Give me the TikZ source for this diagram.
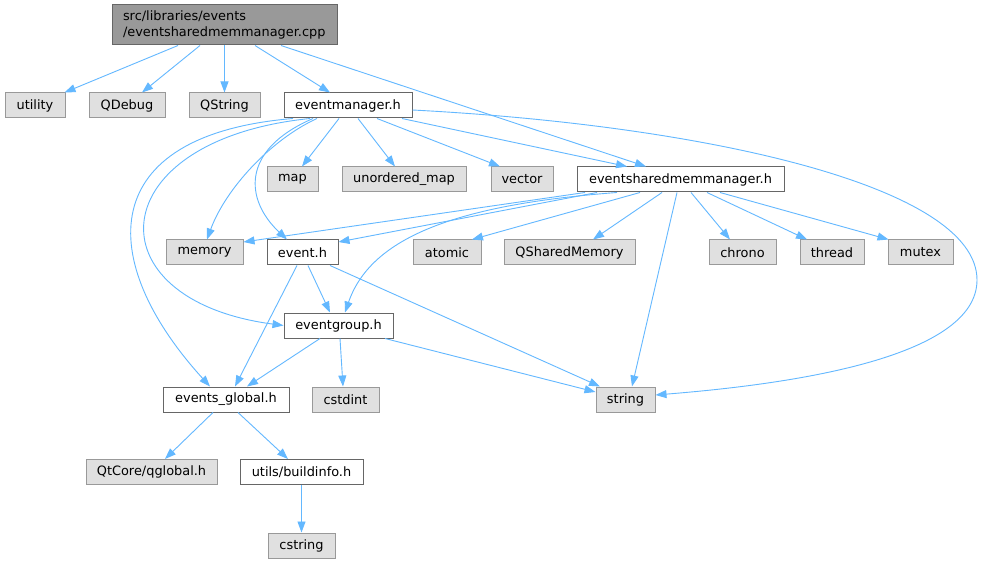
\documentclass[tikz,border=0pt]{standalone}
\usepackage{fontspec}
\setmainfont{DejaVu Sans}
\usetikzlibrary{arrows.meta}
\definecolor{edgeblue}{HTML}{63B8FF}
\definecolor{sysfill}{HTML}{E0E0E0}
\definecolor{sysdraw}{HTML}{999999}
\definecolor{prjdraw}{HTML}{666666}
\definecolor{rootfill}{HTML}{999999}
\begin{document}
\begin{tikzpicture}[x=1pt,y=-1pt,
  every node/.style={font=\fontsize{12.9}{16}\selectfont, inner sep=0pt, line width=1pt},
  sys/.style={draw=sysdraw, fill=sysfill, minimum height=25pt},
  prj/.style={draw=prjdraw, fill=white, minimum height=25pt},
  rootbox/.style={draw=prjdraw, fill=rootfill, minimum height=40pt, text width=203pt, inner xsep=11pt, align=left},
  dep/.style={draw=edgeblue, line width=0.9pt, -{Triangle[length=11pt,width=8pt]}}]
\useasboundingbox (0,0) rectangle (983,564);
\fill[white] (0,0) rectangle (983,564);
% nodes
\node[rootbox] (root) at (224.5,25) {src/libraries/events\\/eventsharedmemmanager.cpp};
\node[sys, minimum width=60pt] (ut) at (35,105.5) {utility};
\node[sys, minimum width=76pt] (qd) at (127,105.5) {QDebug};
\node[sys, minimum width=71pt] (qs) at (224.5,105.5) {QString};
\node[prj, minimum width=128pt] (em) at (348,105.5) {eventmanager.h};
\node[sys, minimum width=51pt] (map) at (292.5,179.5) {map};
\node[sys, minimum width=124pt] (um) at (404,179.5) {unordered\_map};
\node[sys, minimum width=62pt] (vec) at (522,179.5) {vector};
\node[prj, minimum width=207pt] (esm) at (680.5,179.5) {eventsharedmemmanager.h};
\node[sys, minimum width=77pt] (mem) at (204.5,252.5) {memory};
\node[prj, minimum width=71pt] (ev) at (302.5,252.5) {event.h};
\node[sys, minimum width=68pt] (at) at (447,252.5) {atomic};
\node[sys, minimum width=131pt] (qsm) at (569.5,252.5) {QSharedMemory};
\node[sys, minimum width=67pt] (chr) at (742.5,252.5) {chrono};
\node[sys, minimum width=64pt] (thr) at (832,252.5) {thread};
\node[sys, minimum width=65pt] (mtx) at (920.5,252.5) {mutex};
\node[prj, minimum width=109pt] (eg) at (338.5,325.5) {eventgroup.h};
\node[sys, minimum width=59pt] (str) at (625.5,399.5) {string};
\node[prj, minimum width=126pt] (eglob) at (226,399.5) {events\_global.h};
\node[sys, minimum width=67pt] (csi) at (345.5,399.5) {cstdint};
\node[sys, minimum width=131pt] (qtg) at (151.5,472) {QtCore/qglobal.h};
\node[prj, minimum width=123pt] (bi) at (301.5,472) {utils/buildinfo.h};
\node[sys, minimum width=67pt] (cs) at (301.5,545.5) {cstring};
% edges from root
\draw[dep] ([xshift=-46.5pt]root.south) -- ([xshift=-1pt]ut.north east);
\draw[dep] ([xshift=-24.5pt]root.south) -- ([xshift=15pt]qd.north);
\draw[dep] (root.south) -- (qs.north);
\draw[dep] ([xshift=30.5pt]root.south) -- ([xshift=-18pt]em.north);
\draw[dep] ([xshift=56.5pt]root.south) -- ([xshift=-34.5pt]esm.north);
% edges from eventmanager.h
\draw[dep] ([xshift=-9pt]em.south) -- ([xshift=9.5pt]map.north);
\draw[dep] ([xshift=10pt]em.south) -- ([xshift=-9pt]um.north);
\draw[dep] ([xshift=29pt]em.south) -- ([xshift=-22pt]vec.north);
\draw[dep] ([xshift=54pt]em.south) -- ([xshift=-53.5pt]esm.north);
\draw[dep] ([yshift=-4.5pt]em.east) .. controls (700,125) and (977,185) .. (977,280)
  .. controls (977,360) and (780,385) .. ([yshift=4.5pt]str.east);
\draw[dep] ([xshift=-31pt]em.south) .. controls (270,140) and (225,190) .. ([xshift=2.5pt]mem.north);
\draw[dep] ([xshift=-35pt]em.south) .. controls (240,150) and (245,200) .. ([xshift=-15.5pt]ev.north);
\draw[dep] ([xshift=-38pt]em.south) .. controls (100,140) and (90,300) .. (eg.west);
\draw[dep] ([xshift=-55pt]em.south) .. controls (95,135) and (95,260) .. ([xshift=-16pt]eglob.north);
% edges from eventsharedmemmanager.h
\draw[dep] ([xshift=-95.5pt]esm.south) -- ([yshift=10.5pt]mem.east);
\draw[dep] ([xshift=-83.5pt]esm.south) -- ([yshift=10.5pt]ev.east);
\draw[dep] ([xshift=-63.5pt]esm.south) .. controls (450,205) and (370,240) .. ([xshift=6.5pt]eg.north);
\draw[dep] ([xshift=-40.5pt]esm.south) -- ([xshift=25pt]at.north);
\draw[dep] ([xshift=-18.5pt]esm.south) -- ([xshift=23.5pt]qsm.north);
\draw[dep] ([xshift=-3.5pt]esm.south) -- ([xshift=6.5pt]str.north);
\draw[dep] ([xshift=10.5pt]esm.south) -- ([xshift=-12.5pt]chr.north);
\draw[dep] ([xshift=26.5pt]esm.south) -- ([xshift=-25pt]thr.north);
\draw[dep] ([xshift=39.5pt]esm.south) -- ([xshift=1pt]mtx.north west);
% edges from event.h
\draw[dep] ([xshift=5.5pt]ev.south) -- ([xshift=-8.5pt]eg.north);
\draw[dep] ([xshift=-5.5pt]ev.south) -- ([xshift=9pt]eglob.north);
\draw[dep] ([xshift=27.5pt]ev.south) -- ([xshift=-25.5pt]str.north);
% edges from eventgroup.h
\draw[dep] ([xshift=-18.5pt]eg.south) -- ([xshift=21pt]eglob.north);
\draw[dep] ([xshift=1.5pt]eg.south) -- ([xshift=-2.5pt]csi.north);
\draw[dep] ([xshift=46.5pt]eg.south) -- ([yshift=7.5pt]str.west);
% edges from events_global.h
\draw[dep] ([xshift=-13pt]eglob.south) -- ([xshift=13.5pt]qtg.north);
\draw[dep] ([xshift=12pt]eglob.south) -- ([xshift=-13.5pt]bi.north);
% edge from buildinfo
\draw[dep] (bi.south) -- (cs.north);
\end{tikzpicture}
\end{document}
